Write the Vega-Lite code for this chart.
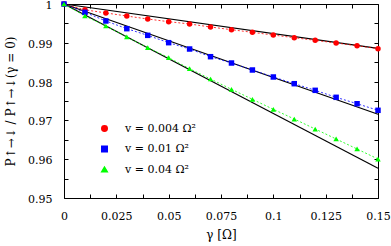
{
  "$schema": "https://vega.github.io/schema/vega-lite/v6.json",
  "width": 314,
  "height": 194,
  "autosize": {"type": "none"},
  "padding": {"left": 64, "top": 4, "right": 13, "bottom": 48},
  "config": {
    "view": {"stroke": "#000", "strokeWidth": 1},
    "axis": {
      "domain": false,
      "grid": false,
      "tickColor": "#000",
      "tickWidth": 1,
      "tickSize": -4,
      "labelFont": "DejaVu Serif",
      "labelFontSize": 11,
      "labelColor": "#000",
      "titleFont": "DejaVu Serif",
      "titleFontSize": 12,
      "titleFontWeight": "normal",
      "titleColor": "#000",
      "labelOverlap": false,
      "labelFlush": false
    },
    "legend": {
      "labelFont": "DejaVu Serif",
      "labelFontSize": 11,
      "labelColor": "#000",
      "symbolSize": 30,
      "symbolOpacity": 1
    }
  },
  "datasets": {
    "sim": [
      {"s": "0.004", "g": 0, "p": 1},
      {"s": "0.004", "g": 0.01, "p": 0.9985},
      {"s": "0.004", "g": 0.02, "p": 0.9977},
      {"s": "0.004", "g": 0.03, "p": 0.9969},
      {"s": "0.004", "g": 0.04, "p": 0.99613},
      {"s": "0.004", "g": 0.05, "p": 0.99544},
      {"s": "0.004", "g": 0.06, "p": 0.99485},
      {"s": "0.004", "g": 0.07, "p": 0.99407},
      {"s": "0.004", "g": 0.08, "p": 0.99338},
      {"s": "0.004", "g": 0.09, "p": 0.9927},
      {"s": "0.004", "g": 0.10, "p": 0.9920},
      {"s": "0.004", "g": 0.11, "p": 0.99131},
      {"s": "0.004", "g": 0.12, "p": 0.99064},
      {"s": "0.004", "g": 0.13, "p": 0.98995},
      {"s": "0.004", "g": 0.14, "p": 0.98925},
      {"s": "0.004", "g": 0.15, "p": 0.98848},
      {"s": "0.01", "g": 0, "p": 1},
      {"s": "0.01", "g": 0.01, "p": 0.99785},
      {"s": "0.01", "g": 0.02, "p": 0.99562},
      {"s": "0.01", "g": 0.03, "p": 0.99364},
      {"s": "0.01", "g": 0.04, "p": 0.99192},
      {"s": "0.01", "g": 0.05, "p": 0.99003},
      {"s": "0.01", "g": 0.06, "p": 0.9884},
      {"s": "0.01", "g": 0.07, "p": 0.98642},
      {"s": "0.01", "g": 0.08, "p": 0.98479},
      {"s": "0.01", "g": 0.09, "p": 0.98299},
      {"s": "0.01", "g": 0.10, "p": 0.98119},
      {"s": "0.01", "g": 0.11, "p": 0.97946},
      {"s": "0.01", "g": 0.12, "p": 0.97775},
      {"s": "0.01", "g": 0.13, "p": 0.97595},
      {"s": "0.01", "g": 0.14, "p": 0.9743},
      {"s": "0.01", "g": 0.15, "p": 0.9726},
      {"s": "0.04", "g": 0, "p": 1},
      {"s": "0.04", "g": 0.01, "p": 0.99691},
      {"s": "0.04", "g": 0.02, "p": 0.99433},
      {"s": "0.04", "g": 0.03, "p": 0.9915},
      {"s": "0.04", "g": 0.04, "p": 0.98874},
      {"s": "0.04", "g": 0.05, "p": 0.98616},
      {"s": "0.04", "g": 0.06, "p": 0.98332},
      {"s": "0.04", "g": 0.07, "p": 0.98067},
      {"s": "0.04", "g": 0.08, "p": 0.97802},
      {"s": "0.04", "g": 0.09, "p": 0.97544},
      {"s": "0.04", "g": 0.10, "p": 0.97286},
      {"s": "0.04", "g": 0.11, "p": 0.97036},
      {"s": "0.04", "g": 0.12, "p": 0.96778},
      {"s": "0.04", "g": 0.13, "p": 0.96521},
      {"s": "0.04", "g": 0.14, "p": 0.96263},
      {"s": "0.04", "g": 0.15, "p": 0.96005}
    ],
    "fit": [
      {"s": "0.004", "g": 0, "p": 1},
      {"s": "0.004", "g": 0.15, "p": 0.98855},
      {"s": "0.01", "g": 0, "p": 1},
      {"s": "0.01", "g": 0.15, "p": 0.97157},
      {"s": "0.04", "g": 0, "p": 1},
      {"s": "0.04", "g": 0.15, "p": 0.95765}
    ]
  },
  "layer": [
    {
      "data": {"name": "fit"},
      "mark": {"type": "line", "color": "#000", "strokeWidth": 1.2},
      "encoding": {
        "x": {
          "field": "g", "type": "quantitative",
          "scale": {"domain": [0, 0.15], "nice": false, "zero": false},
          "axis": {
            "orient": "bottom",
            "title": "γ [Ω]",
            "values": [0, 0.0125, 0.025, 0.0375, 0.05, 0.0625, 0.075, 0.0875, 0.1, 0.1125, 0.125, 0.1375, 0.15],
            "labelExpr": "round(datum.value*80) % 2 == 0 ? format(datum.value, '~g') : ''",
            "labelPadding": 16,
            "titlePadding": 8
          }
        },
        "y": {
          "field": "p", "type": "quantitative",
          "scale": {"domain": [0.95, 1], "nice": false, "zero": false},
          "axis": {
            "orient": "left",
            "title": "P↑→↓ / P↑→↓(γ = 0)",
            "values": [0.95, 0.955, 0.96, 0.965, 0.97, 0.975, 0.98, 0.985, 0.99, 0.995, 1],
            "labelExpr": "round(datum.value*200) % 2 == 0 ? format(datum.value, '~g') : ''",
            "labelPadding": 16,
            "labelOffset": 1.5,
            "titlePadding": 10
          }
        },
        "detail": {"field": "s"}
      }
    },
    {
      "data": {"name": "sim"},
      "mark": {"type": "line", "strokeWidth": 1, "strokeDash": [2, 2], "opacity": 0.8},
      "encoding": {
        "x": {
          "field": "g", "type": "quantitative",
          "axis": {
            "orient": "top", "title": null, "labels": false,
            "values": [0, 0.0125, 0.025, 0.0375, 0.05, 0.0625, 0.075, 0.0875, 0.1, 0.1125, 0.125, 0.1375, 0.15]
          }
        },
        "y": {
          "field": "p", "type": "quantitative",
          "axis": {
            "orient": "right", "title": null, "labels": false,
            "values": [0.95, 0.955, 0.96, 0.965, 0.97, 0.975, 0.98, 0.985, 0.99, 0.995, 1]
          }
        },
        "color": {
          "field": "s", "type": "nominal",
          "scale": {"domain": ["0.004", "0.01", "0.04"], "range": ["#ff0000", "#0000ff", "#00ff00"]},
          "legend": {
            "title": null,
            "orient": "none",
            "legendX": 35,
            "legendY": 119,
            "rowPadding": 7.5,
            "labelOffset": 15,
            "labelExpr": "'v = ' + datum.label + ' Ω²'"
          }
        }
      }
    },
    {
      "data": {"name": "sim"},
      "mark": {"type": "point", "filled": true, "opacity": 1, "clip": false, "size": 30},
      "encoding": {
        "x": {"field": "g", "type": "quantitative", "axis": null},
        "y": {"field": "p", "type": "quantitative", "axis": null},
        "color": {
          "field": "s", "type": "nominal",
          "legend": {
            "title": null,
            "orient": "none",
            "legendX": 35,
            "legendY": 119,
            "rowPadding": 7.5,
            "labelOffset": 15,
            "labelExpr": "'v = ' + datum.label + ' Ω²'"
          }
        },
        "shape": {
          "field": "s", "type": "nominal",
          "scale": {"domain": ["0.004", "0.01", "0.04"], "range": ["circle", "square", "triangle-up"]},
          "legend": {
            "title": null,
            "orient": "none",
            "legendX": 35,
            "legendY": 119,
            "rowPadding": 7.5,
            "labelOffset": 15,
            "labelExpr": "'v = ' + datum.label + ' Ω²'"
          }
        }
      }
    }
  ],
  "resolve": {"axis": {"x": "independent", "y": "independent"}}
}
